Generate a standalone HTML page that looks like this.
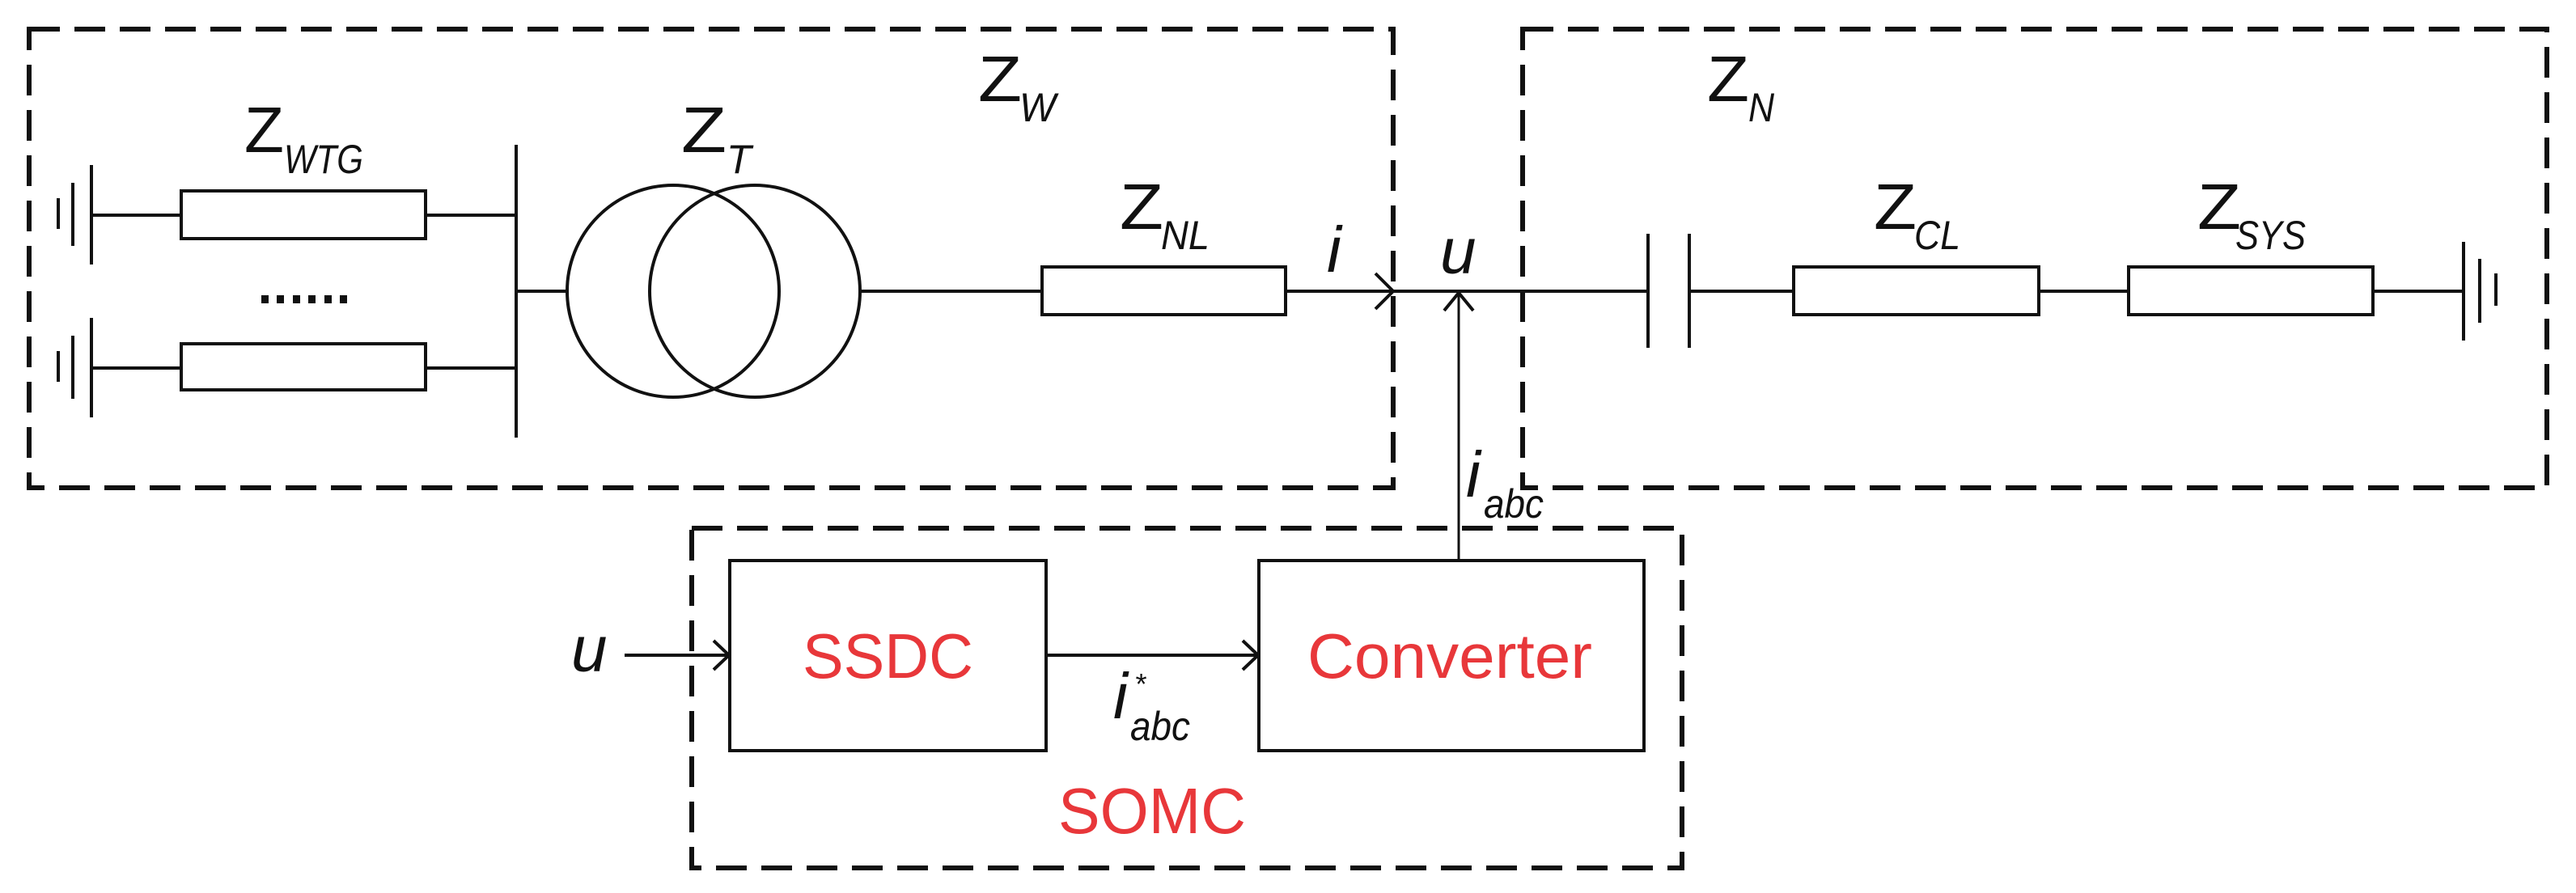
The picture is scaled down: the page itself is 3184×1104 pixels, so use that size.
<!DOCTYPE html>
<html><head><meta charset="utf-8"><style>
html,body{margin:0;padding:0;background:#fff;}
svg{display:block;}
text{font-family:"Liberation Sans",sans-serif;}
</style></head><body>
<svg width="3184" height="1104" viewBox="0 0 3184 1104" xmlns="http://www.w3.org/2000/svg">
<g fill="none" stroke="#111" stroke-width="6" stroke-dasharray="38 18">
<rect x="36" y="36" width="1686" height="567"/>
<rect x="1882" y="36" width="1266" height="567"/>
<rect x="855" y="653" width="1224" height="420"/>
</g>
<g fill="none" stroke="#111" stroke-width="4">
<line x1="113" y1="204" x2="113" y2="327"/><line x1="90" y1="226" x2="90" y2="304"/><line x1="72" y1="245" x2="72" y2="283"/>
<line x1="113" y1="393" x2="113" y2="516"/><line x1="90" y1="415" x2="90" y2="493"/><line x1="72" y1="434" x2="72" y2="472"/>
<line x1="113" y1="266" x2="224" y2="266"/><rect x="224" y="236" width="302" height="59"/><line x1="526" y1="266" x2="638" y2="266"/>
<line x1="113" y1="455" x2="224" y2="455"/><rect x="224" y="425" width="302" height="57"/><line x1="526" y1="455" x2="638" y2="455"/>
<line x1="638" y1="179" x2="638" y2="541"/>
<line x1="638" y1="360" x2="701" y2="360"/>
<ellipse cx="832" cy="360" rx="131" ry="131"/>
<ellipse cx="933" cy="360" rx="130" ry="131"/>
<line x1="1063" y1="360" x2="1288" y2="360"/>
<rect x="1288" y="330" width="301" height="59"/>
<line x1="1589" y1="360" x2="2037" y2="360"/>
<polyline points="1700,338 1722,360 1700,382"/>
<line x1="1803" y1="360" x2="1803" y2="693" stroke-width="3"/>
<polyline points="1785,384 1803,362 1821,384"/>
<line x1="2037" y1="289" x2="2037" y2="430"/><line x1="2088" y1="289" x2="2088" y2="430"/>
<line x1="2088" y1="360" x2="2217" y2="360"/>
<rect x="2217" y="330" width="303" height="59"/>
<line x1="2520" y1="360" x2="2631" y2="360"/>
<rect x="2631" y="330" width="302" height="59"/>
<line x1="2933" y1="360" x2="3045" y2="360"/>
<line x1="3045" y1="299" x2="3045" y2="421"/><line x1="3065" y1="320" x2="3065" y2="399"/><line x1="3085" y1="338" x2="3085" y2="378"/>
<rect x="902" y="693" width="391" height="235"/>
<rect x="1556" y="693" width="476" height="235"/>
<line x1="772" y1="810" x2="900" y2="810"/>
<polyline points="882,792 901,810 882,828"/>
<line x1="1293" y1="810" x2="1554" y2="810"/>
<polyline points="1536,792 1555,810 1536,828"/>
</g>
<g fill="#111">
<rect x="323" y="365" width="9" height="10"/><rect x="342" y="365" width="9" height="10"/><rect x="362" y="365" width="9" height="10"/>
<rect x="381" y="365" width="9" height="10"/><rect x="401" y="365" width="9" height="10"/><rect x="420" y="365" width="9" height="10"/>
</g>
<g fill="#111" font-size="80">
<text x="302" y="188" textLength="49" lengthAdjust="spacingAndGlyphs">Z</text>
<text x="842" y="188" textLength="56" lengthAdjust="spacingAndGlyphs">Z</text>
<text x="1209" y="125" textLength="54" lengthAdjust="spacingAndGlyphs">Z</text>
<text x="1384" y="283" textLength="54" lengthAdjust="spacingAndGlyphs">Z</text>
<text x="2110" y="125" textLength="52" lengthAdjust="spacingAndGlyphs">Z</text>
<text x="2316" y="283" textLength="53" lengthAdjust="spacingAndGlyphs">Z</text>
<text x="2716" y="283" textLength="54" lengthAdjust="spacingAndGlyphs">Z</text>
</g>
<g fill="#111" font-size="80" font-style="italic">
<text x="351" y="214" font-size="50" textLength="98" lengthAdjust="spacingAndGlyphs">WTG</text>
<text x="898" y="214" font-size="50">T</text>
<text x="1260" y="150" font-size="50" textLength="45" lengthAdjust="spacingAndGlyphs">W</text>
<text x="1435" y="308" font-size="50" textLength="60" lengthAdjust="spacingAndGlyphs">NL</text>
<text x="1640" y="336">i</text>
<text x="1780" y="338">u</text>
<text x="2161" y="150" font-size="50" textLength="32" lengthAdjust="spacingAndGlyphs">N</text>
<text x="2366" y="308" font-size="50" textLength="57" lengthAdjust="spacingAndGlyphs">CL</text>
<text x="2763" y="308" font-size="50" textLength="87" lengthAdjust="spacingAndGlyphs">SYS</text>
<text x="1812" y="614">i</text><text x="1834" y="640" font-size="50" textLength="74" lengthAdjust="spacingAndGlyphs">abc</text>
<text x="706" y="830">u</text>
<text x="1376" y="888">i</text><text x="1402" y="858" font-size="36">*</text><text x="1397" y="915" font-size="50" textLength="74" lengthAdjust="spacingAndGlyphs">abc</text>
</g>
<g fill="#e8373a" font-size="78">
<text x="992" y="838" textLength="211" lengthAdjust="spacingAndGlyphs">SSDC</text>
<text x="1616" y="838" textLength="352" lengthAdjust="spacingAndGlyphs">Converter</text>
<text x="1308" y="1030" font-size="80" textLength="232" lengthAdjust="spacingAndGlyphs">SOMC</text>
</g>
</svg>
</body></html>
